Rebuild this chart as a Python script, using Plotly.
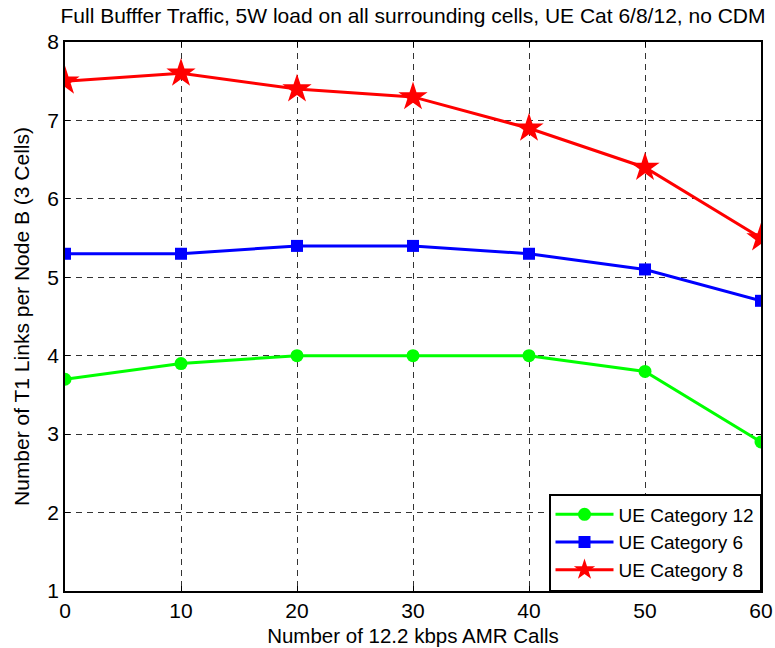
import plotly.graph_objects as go

amr_calls = [0, 10, 20, 30, 40, 50, 60]
cat12 = [3.7, 3.9, 4.0, 4.0, 4.0, 3.8, 2.9]
cat6 = [5.3, 5.3, 5.4, 5.4, 5.3, 5.1, 4.7]
cat8 = [7.5, 7.6, 7.4, 7.3, 6.9, 6.4, 5.5]
y_ticks = [1, 2, 3, 4, 5, 6, 7, 8]

fig = go.Figure()
fig.add_trace(go.Scatter(x=amr_calls, y=cat12, mode="lines+markers", name="UE Category 12",
                         line=dict(color="#00ff00", width=3),
                         marker=dict(symbol="circle", size=13, color="#00ff00")))
fig.add_trace(go.Scatter(x=amr_calls, y=cat6, mode="lines+markers", name="UE Category 6",
                         line=dict(color="#0000ff", width=3),
                         marker=dict(symbol="square", size=12, color="#0000ff")))
fig.add_trace(go.Scatter(x=amr_calls, y=cat8, mode="lines+markers", name="UE Category 8",
                         line=dict(color="#ff0000", width=3),
                         marker=dict(symbol="star", size=22, color="#ff0000")))

FONT = "Liberation Sans, Arial"
tick_font = dict(family=FONT, size=21, color="black")
axis_common = dict(showline=True, linecolor="black", linewidth=1.5, mirror="ticks",
                   showgrid=True, gridcolor="#333333", griddash="6px,5px", gridwidth=1,
                   ticks="inside", ticklen=5, tickcolor="black", zeroline=False,
                   automargin=False, tickfont=tick_font)

fig.update_layout(
    width=775, height=648,
    margin=dict(l=65, r=14, t=42, b=57),
    paper_bgcolor="white", plot_bgcolor="white",
    title=dict(text="Full Bufffer Traffic, 5W load on all surrounding cells, UE Cat 6/8/12, no CDM",
               x=(65 + 761) / 2 / 775, xanchor="center", y=1 - 16 / 648, yanchor="middle",
               font=dict(family="Liberation Sans Narrow, Liberation Sans, Arial", size=21, color="black")),
    xaxis=dict(range=[0, 60], tickvals=amr_calls,
               title=dict(text="Number of 12.2 kbps AMR Calls", standoff=8,
                          font=dict(family=FONT, size=20.5, color="black")),
               **axis_common),
    yaxis=dict(range=[1, 8], tickvals=y_ticks,
               title=dict(text="Number of T1 Links per Node B (3 Cells)", standoff=12,
                          font=dict(family=FONT, size=21, color="black")),
               **axis_common),
    legend=dict(x=1, y=0, xanchor="right", yanchor="bottom",
                bgcolor="white", bordercolor="black", borderwidth=1.5,
                font=dict(family=FONT, size=19, color="black"),
                itemwidth=58, tracegroupgap=0),
    showlegend=True,
)

fig.write_html("out.html")
